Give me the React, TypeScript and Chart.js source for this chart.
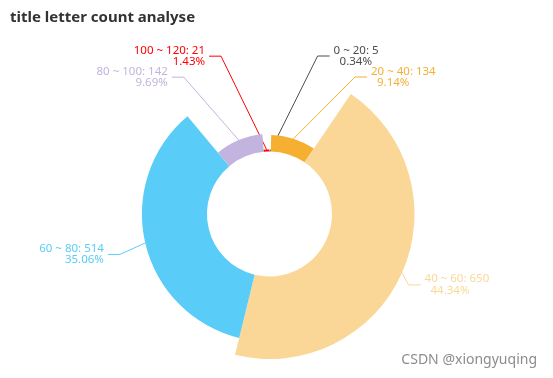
import React, { useEffect, useRef } from 'react';
import { Chart, registerables } from 'chart.js';

Chart.register(...registerables);

const categories = ['0 ~ 20', '20 ~ 40', '40 ~ 60', '60 ~ 80', '80 ~ 100', '100 ~ 120'];
const counts = [5, 134, 650, 514, 142, 21];
const colors = ['#4d4d4d', '#f5b031', '#fad797', '#59ccf7', '#c3b4df', '#ff0000'];
const titleText = 'title letter count analyse';
const watermarkText = 'CSDN @xiongyuqing';

const INNER = 62.5;
const OUTER = 145;
const LINE_LEN = 13;
const LABEL_RADIUS = 170.5;
const LABEL_HEIGHT = 21;
const LABEL_FONT = '11.5px "Noto Sans", sans-serif';

type LabelItem = {
  i: number;
  sx: number;
  sy: number;
  x: number;
  y: number;
  tx: number;
  dir: number;
};

const roseRadiusPlugin = {
  id: 'roseRadius',
  afterDatasetUpdate(chart: any, args: any) {
    const meta = args.meta;
    const vals = counts;
    const min = Math.min(...vals);
    const max = Math.max(...vals);
    meta.data.forEach((arc: any, i: number) => {
      const v = vals[i];
      arc.innerRadius = INNER;
      arc.outerRadius = INNER + ((v - min) / (max - min)) * (OUTER - INNER);
    });
  },
};

function computeLabels(chart: any): { items: LabelItem[]; cx: number; cy: number } {
  const meta = chart.getDatasetMeta(0);
  const arcs = meta.data;
  const cx = arcs[0].x;
  const cy = arcs[0].y;
  const items: LabelItem[] = arcs.map((arc: any, i: number) => {
    const mid = (arc.startAngle + arc.endAngle) / 2;
    const c = Math.cos(mid);
    const s = Math.sin(mid);
    const dir = c >= 0 ? 1 : -1;
    return {
      i,
      sx: cx + c * arc.outerRadius,
      sy: cy + s * arc.outerRadius,
      x: cx + c * (OUTER + LINE_LEN),
      y: cy + s * (OUTER + LINE_LEN),
      tx: 0,
      dir,
    };
  });
  const viewTop = 0;
  const viewBottom = chart.height;
  const adjust = (list: LabelItem[], dir: number) => {
    list.sort((a, b) => a.y - b.y);
    const h = LABEL_HEIGHT;
    const shiftUp = (end: number, delta: number) => {
      for (let j = end; j >= 0; j--) {
        if (list[j].y - delta < viewTop) break;
        list[j].y -= delta;
        if (j > 0 && list[j].y > list[j - 1].y + h) break;
      }
    };
    const shiftDown = (start: number, end: number, delta: number) => {
      for (let j = start; j < end; j++) {
        if (list[j].y + delta > viewBottom) break;
        list[j].y += delta;
        if (j > start && j + 1 < end && list[j + 1].y > list[j].y + h) {
          shiftUp(j, delta / 2);
          return;
        }
      }
      shiftUp(end - 1, delta / 2);
    };
    let lastY = 0;
    for (let i = 0; i < list.length; i++) {
      const delta = list[i].y - lastY;
      if (delta < 0) shiftDown(i, list.length, -delta);
      lastY = list[i].y + h;
    }
    const up = list.filter((it) => it.y < cy);
    const down = list.filter((it) => it.y >= cy);
    const changeX = (arr: LabelItem[], isDown: boolean) => {
      let last = isDown ? Infinity : 0;
      for (const it of arr) {
        const dy = Math.abs(it.y - cy);
        let dx = dy < LABEL_RADIUS ? Math.sqrt(LABEL_RADIUS * LABEL_RADIUS - dy * dy) : Math.abs(it.x - cx);
        if (isDown && dx >= last) dx = last - 10;
        if (!isDown && dx <= last) dx = last + 10;
        it.tx = cx + dx * dir;
        last = dx;
      }
    };
    changeX(up, false);
    changeX(down, true);
  };
  adjust(items.filter((it) => it.dir > 0), 1);
  adjust(items.filter((it) => it.dir < 0), -1);
  items.sort((a, b) => a.i - b.i);
  return { items, cx, cy };
}

const roseLabelPlugin = {
  id: 'roseLabels',
  beforeDatasetsDraw(chart: any) {
    const { items } = computeLabels(chart);
    (chart as any).$roseLabels = items;
    const ctx = chart.ctx;
    ctx.save();
    ctx.lineWidth = 1;
    items.forEach((it) => {
      ctx.strokeStyle = colors[it.i];
      ctx.beginPath();
      ctx.moveTo(it.sx, it.sy);
      ctx.lineTo(it.tx - it.dir * 16, it.y);
      ctx.lineTo(it.tx - it.dir * 4, it.y);
      ctx.stroke();
    });
    ctx.restore();
  },
  afterDatasetsDraw(chart: any) {
    const items: LabelItem[] = (chart as any).$roseLabels || [];
    const total = counts.reduce((a, b) => a + b, 0);
    const ctx = chart.ctx;
    ctx.save();
    ctx.font = LABEL_FONT;
    ctx.textBaseline = 'alphabetic';
    items.forEach((it) => {
      const v = counts[it.i];
      const pct = ((v / total) * 100).toFixed(2);
      ctx.fillStyle = colors[it.i];
      ctx.textAlign = it.dir > 0 ? 'left' : 'right';
      ctx.fillText(`${categories[it.i]}: ${v}`, it.tx, it.y - 2.5);
      ctx.fillText(`  ${pct}%`, it.tx, it.y + 9);
    });
    ctx.restore();
  },
  afterDraw(chart: any) {
    const ctx = chart.ctx;
    ctx.save();
    ctx.font = 'bold 15px "Noto Sans", sans-serif';
    ctx.fillStyle = '#333333';
    ctx.textAlign = 'left';
    ctx.textBaseline = 'alphabetic';
    ctx.fillText(titleText, 10, 22);
    ctx.font = '14px "Noto Sans", sans-serif';
    ctx.fillStyle = '#8c8c8c';
    ctx.textAlign = 'right';
    ctx.fillText(watermarkText, 537, 364);
    ctx.restore();
  },
};

export default function App() {
  const canvasRef = useRef<HTMLCanvasElement | null>(null);
  useEffect(() => {
    const canvas = canvasRef.current;
    if (!canvas) return;
    const chart = new Chart(canvas, {
      type: 'doughnut',
      data: {
        labels: categories,
        datasets: [
          {
            data: counts,
            backgroundColor: colors,
            borderWidth: 0,
            hoverOffset: 0,
          },
        ],
      },
      options: {
        responsive: false,
        animation: false,
        radius: OUTER,
        cutout: `${(INNER / OUTER) * 100}%`,
        layout: { padding: { left: 0, right: 14, top: 50, bottom: 0 } },
        plugins: {
          legend: { display: false },
          tooltip: { enabled: false },
          title: { display: false },
        },
        events: [],
      } as any,
      plugins: [roseRadiusPlugin, roseLabelPlugin],
    });
    return () => chart.destroy();
  }, []);
  return (
    <div style={{ position: 'fixed', left: 0, top: 0, width: 553, height: 378, background: '#fff' }}>
      <canvas ref={canvasRef} width={553} height={378} style={{ display: 'block' }} />
    </div>
  );
}
